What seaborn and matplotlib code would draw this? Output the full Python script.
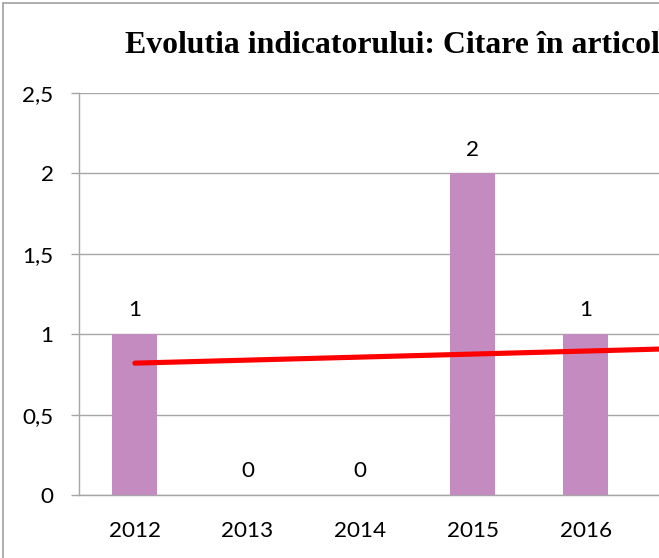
import matplotlib
matplotlib.use("Agg")
import matplotlib.pyplot as plt
from matplotlib.lines import Line2D
import seaborn as sns
import pandas as pd

# ---- data ----
years = [2012, 2013, 2014, 2015, 2016]
values = [1, 0, 0, 2, 1]
trend_years = [2012, 2017]
trend_values = [0.82, 0.914]
y_ticks = [0, 0.5, 1, 1.5, 2, 2.5]
y_tick_labels = ["0", "0,5", "1", "1,5", "2", "2,5"]
title = "Evolutia indicatorului: Citare în articole"

sns.set_style("white")
plt.rcParams['font.family'] = ['Lato', 'DejaVu Sans']

W, H = 659, 558
fig = plt.figure(figsize=(W / 100, H / 100), dpi=100)

px = lambda v: v / W
py = lambda v: v / H
left, bottom_px, top_px = 78.5, 495, 93
cat_w = 112.7
n_cats = 6
ax = fig.add_axes([px(left), py(H - bottom_px), px(cat_w * n_cats), py(bottom_px - top_px)])

df = pd.DataFrame({"year": [str(y) for y in years], "value": values})
sns.barplot(data=df, x="year", y="value", color="#C38BC0", saturation=1,
            width=0.4, ax=ax, zorder=3, linewidth=0, edgecolor="none")

pos = [y - years[0] for y in trend_years]
ax.plot(pos, trend_values, color="#FF0000", lw=3.7, solid_capstyle="round", zorder=4)

for c in ax.containers:
    ax.bar_label(c, labels=[str(v) for v in values], padding=10, fontsize=16.2, color="#000000")

ax.set_xlim(-0.5, n_cats - 0.5)
ax.set_ylim(0, 2.5)
ax.set_yticks(y_ticks)
ax.set_yticklabels(y_tick_labels)
ax.set_xlabel("")
ax.set_ylabel("")
ax.yaxis.grid(True, color="#A6A6A6", lw=1.0, zorder=0)
ax.xaxis.grid(False)
ax.set_axisbelow(True)

for s in ["top", "right"]:
    ax.spines[s].set_visible(False)
for s in ["left", "bottom"]:
    ax.spines[s].set_color("#A6A6A6")
    ax.spines[s].set_linewidth(1.0)

ax.set_xticks([i - 0.5 for i in range(n_cats + 1)], minor=True)
ax.tick_params(axis="x", which="minor", length=6, width=1, color="#A6A6A6", direction="out")
ax.tick_params(axis="x", which="major", length=0, pad=18.5, labelsize=16.2, labelcolor="#000000")
ax.tick_params(axis="y", which="major", length=6, width=1, color="#A6A6A6", pad=12,
               labelsize=16.2, labelcolor="#000000", left=True)

fig.text(px(125), 1 - py(53), title, ha="left", va="baseline",
         family="Liberation Serif", fontweight="bold", fontsize=22.9, color="#000000")

# chart border (left and top visible)
fig.add_artist(Line2D([px(3), px(3)], [-0.1, 1 - py(3)], transform=fig.transFigure, color="#A0A0A0", lw=1.2))
fig.add_artist(Line2D([px(3), 1.2], [1 - py(3), 1 - py(3)], transform=fig.transFigure, color="#A0A0A0", lw=1.2))

fig.savefig("out.png", dpi=100)
